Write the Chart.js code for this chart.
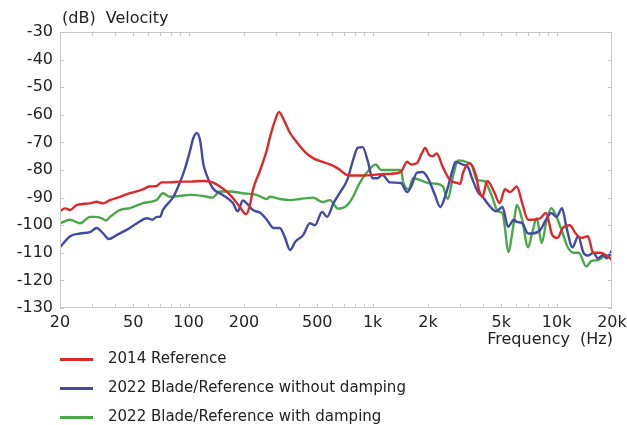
<!DOCTYPE html>
<html>
<head>
<meta charset="utf-8">
<script src="https://cdn.jsdelivr.net/npm/chart.js@4.4.1/dist/chart.umd.min.js"></script>
<style>
  html, body { margin: 0; padding: 0; background: #fff; }
  #wrap { position: relative; width: 627px; height: 425px; font-family: "DejaVu Sans", Verdana, sans-serif; }
  #c { position: absolute; left: 0; top: 0; }
  .leg { position: absolute; left: 60px; height: 20px; font-size: 15px; color: #222; white-space: nowrap; }
  .leg span.sw { position: absolute; left: 0; top: 10px; width: 33px; height: 3px; }
  .leg span.tx { position: absolute; left: 48px; top: 0; line-height: 20px; }
</style>
</head>
<body>
<div id="wrap">
  <canvas id="c" width="627" height="425"></canvas>
  <div id="legend"></div>
</div>
<script>
// ---- Data ----
const seriesNames = ["2014 Reference", "2022 Blade/Reference without damping", "2022 Blade/Reference with damping"];
const seriesColors = ["#dc2a2c", "#4249a6", "#49a84a"];

const redFreq = [20,21.3,22.7,24.6,29.1,31.6,34.3,37.4,42.4,48,56.5,61,67,71.5,79,89,102,120,135,148,165,183,195,205,215,224,245,266,277,295,310,330,356,388,430,475,530,587,650,728,800,900,1000,1100,1244,1424,1540,1620,1740,1850,1930,2030,2120,2230,2410,2630,2870,2990,3100,3360,3650,3780,3950,4200,4580,4900,5240,5600,6080,6500,7000,7400,8150,8760,9460,10100,10800,11800,12700,13600,14800,15800,17300,18700,20000];
const redDb = [-94.9,-93.9,-94.5,-92.7,-92.1,-91.5,-92.1,-90.9,-89.7,-88.4,-87,-86,-85.8,-84.5,-84.5,-84.2,-84.2,-84,-84.5,-86,-88.5,-92,-94.5,-96,-93,-87,-80,-72.8,-68,-62,-59,-62,-66.6,-70,-73.5,-75.7,-77,-78,-79.5,-81.8,-82,-82,-81.8,-81.5,-81.4,-80.7,-77,-78,-77.5,-74,-72,-74.6,-75,-74,-79,-83.6,-84.7,-85,-81,-77.5,-82,-87,-89.7,-84,-88,-92,-87,-88,-86,-92,-98,-98,-97.5,-95.6,-103.5,-104.6,-101,-100,-103,-104.6,-104,-110,-110,-111,-112.6];

const blueFreq = [20,22.7,25.7,29.1,31.7,34.3,36.8,40.6,46,52.4,59.3,63.4,67.3,70,72.5,82.7,89.4,95,102,106,111,116,120,126.5,135,153,174,185,197,211,224,246,266,289,313,334,356,380,420,456,485,532,565,613,661,728,783,829,883,943,999,1060,1130,1244,1424,1540,1620,1740,1870,2000,2180,2330,2520,2720,2830,3070,3300,3470,3770,3950,4200,4700,5080,5450,5850,6080,6500,7000,7400,8150,8760,9340,10000,10700,11300,12200,13100,14000,14900,15800,16800,17900,18700,20000];
const blueDb = [-108,-104,-103,-102.5,-101,-103,-105,-103.6,-101.7,-99.3,-97.5,-98,-97,-97,-94.5,-89.7,-84.7,-80,-72.8,-68.5,-66.6,-70,-77.5,-82.5,-86.5,-89,-92,-95,-91,-92.7,-94.5,-95.6,-98,-101,-101,-104.5,-109,-106,-103.5,-99.3,-100,-95.2,-97,-92,-88.4,-83.6,-76.4,-72,-71.7,-77,-83,-83,-81.8,-84.5,-84.7,-88,-86,-81,-80.7,-83,-89,-93.4,-88,-80,-77,-78,-79,-83,-88.4,-89.5,-92,-95,-93.4,-100.6,-98,-98.8,-99.3,-103,-103,-101.7,-98,-95.6,-97,-93.8,-100.6,-108,-104,-110,-111,-110,-112,-110.8,-112,-109];

const greenFreq = [20,22.7,25.7,29.1,30.7,33.8,35.5,37.4,42.3,48,56.5,61,67,72.5,79,89,102,120,135,148,167,197,234,266,277,313,356,404,475,532,587,648,728,783,850,928,1040,1110,1244,1424,1470,1570,1660,1800,2000,2230,2410,2560,2740,2920,3260,3470,3680,4040,4420,4800,5080,5240,5450,5850,6080,6500,7000,7350,7800,8300,8760,9340,10000,10800,11500,12400,13200,14500,15400,16800,18000,20000];
const greenDb = [-99.3,-98,-99.3,-97,-97,-97.5,-98.3,-97,-94.5,-93.8,-92,-91.6,-90.9,-88.4,-89.7,-89.4,-89,-89.4,-90,-87.8,-87.8,-88.4,-89,-90.5,-89.7,-90.5,-90.9,-90.5,-90,-91.6,-90.9,-94,-92.7,-89.7,-84.7,-81,-78,-80,-80,-80,-84.7,-87,-83,-83.6,-84.7,-85,-86,-90.5,-82,-76.5,-77.2,-78.5,-83.6,-84,-89,-95,-95.6,-101,-109.7,-99.3,-92.7,-98,-108,-103,-97.5,-106.5,-99.3,-93.8,-97,-103,-108,-110,-110,-115,-113,-112.6,-111.4,-110.8];

const xTickValues = [20,50,100,200,500,1000,2000,5000,10000,20000];
const xTickLabels = ["20","50","100","200","500","1k","2k","5k","10k","20k"];
const yTickValues = [-30,-40,-50,-60,-70,-80,-90,-100,-110,-120,-130];
const yAxisTitle = "(dB)  Velocity";
const xAxisTitle = "Frequency  (Hz)";

// ---- Build ----
const FONT = '"DejaVu Sans", Verdana, sans-serif';
function pts(f, v) { return f.map((x, i) => ({ x: x, y: v[i] })); }

const datasets = [
  { label: seriesNames[0], data: pts(redFreq, redDb), borderColor: seriesColors[0] },
  { label: seriesNames[1], data: pts(blueFreq, blueDb), borderColor: seriesColors[1] },
  { label: seriesNames[2], data: pts(greenFreq, greenDb), borderColor: seriesColors[2] }
].map(d => Object.assign(d, { borderWidth: 2.4, pointRadius: 0, fill: false, cubicInterpolationMode: 'monotone', borderJoinStyle: 'round', borderCapStyle: 'round' }));
datasets[0].order = 1; datasets[1].order = 2; datasets[2].order = 3;

const framePlugin = {
  id: 'frame',
  afterDatasetsDraw(chart) {
    const { ctx, chartArea: a, scales: { x, y } } = chart;
    ctx.save();
    ctx.strokeStyle = '#c9c9c9';
    ctx.lineWidth = 1;
    ctx.strokeRect(Math.round(a.left) + 0.5, Math.round(a.top) + 0.5, Math.round(a.right - a.left) - 1, Math.round(a.bottom - a.top) - 1);
    ctx.beginPath();
    for (let dec = 10; dec <= 10000; dec *= 10) {
      for (let m = 1; m <= 9; m++) {
        const v = dec * m;
        if (v <= 20 || v >= 20000) continue;
        const px = Math.round(x.getPixelForValue(v)) + 0.5;
        ctx.moveTo(px, a.top); ctx.lineTo(px, a.top + 4);
        ctx.moveTo(px, a.bottom); ctx.lineTo(px, a.bottom - 4);
      }
    }
    yTickValues.forEach(v => {
      const py = Math.round(y.getPixelForValue(v)) + 0.5;
      ctx.moveTo(a.left, py); ctx.lineTo(a.left + 4, py);
      ctx.moveTo(a.right, py); ctx.lineTo(a.right - 4, py);
    });
    ctx.stroke();
    ctx.fillStyle = '#222';
    ctx.font = '16px ' + FONT;
    ctx.textBaseline = 'middle';
    ctx.textAlign = 'left';
    ctx.fillText(yAxisTitle, a.left + 2, 19);
    ctx.textAlign = 'right';
    ctx.fillText(xAxisTitle, a.right + 1, 340);
    ctx.restore();
  }
};

new Chart(document.getElementById('c'), {
  type: 'line',
  data: { datasets },
  plugins: [framePlugin],
  options: {
    responsive: false,
    animation: false,
    layout: { padding: { left: 0, top: 32, right: 15, bottom: 87 } },
    plugins: { legend: { display: false }, tooltip: { enabled: false } },
    scales: {
      x: {
        type: 'logarithmic', min: 20, max: 20000,
        afterBuildTicks: s => { s.ticks = xTickValues.map(v => ({ value: v })); },
        afterFit: s => { s.height = 30; s.paddingLeft = 0; s.paddingRight = 0; },
        ticks: { callback: (v) => { const i = xTickValues.indexOf(v); return i >= 0 ? xTickLabels[i] : ''; },
                 font: { family: FONT, size: 16 }, color: '#222', maxRotation: 0, autoSkip: false, padding: 5 },
        grid: { display: false, drawTicks: false },
        border: { display: false }
      },
      y: {
        type: 'linear', min: -130, max: -30,
        afterBuildTicks: s => { s.ticks = yTickValues.map(v => ({ value: v })); },
        afterFit: s => { s.width = 60; s.paddingTop = 0; s.paddingBottom = 0; },
        ticks: { font: { family: FONT, size: 16 }, color: '#222', padding: 7, autoSkip: false },
        grid: { display: false, drawTicks: false },
        border: { display: false }
      }
    }
  }
});

// ---- HTML legend ----
const legTops = [348, 377, 406];
const lg = document.getElementById('legend');
seriesNames.forEach((n, i) => {
  const d = document.createElement('div');
  d.className = 'leg';
  d.style.top = legTops[i] + 'px';
  d.innerHTML = '<span class="sw" style="background:' + seriesColors[i] + '"></span><span class="tx"></span>';
  d.querySelector('.tx').textContent = n;
  lg.appendChild(d);
});
</script>
</body>
</html>
